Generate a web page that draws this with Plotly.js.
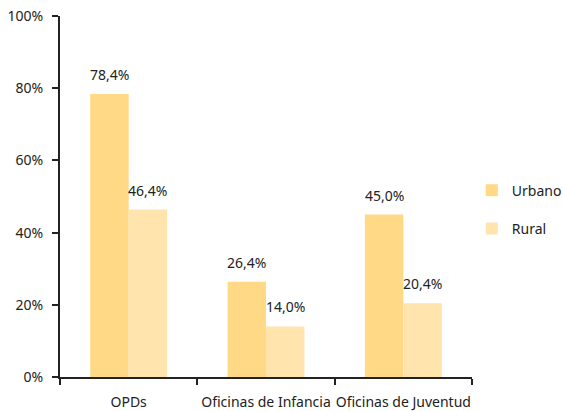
<!DOCTYPE html>
<html><head><meta charset="utf-8">
<script src="https://cdn.plot.ly/plotly-3.0.1.min.js"></script>
<style>html,body{margin:0;padding:0;background:#fff}#c{width:563px;height:411px}</style>
</head><body><div id="c"></div>
<script>
var categories = ["OPDs", "Oficinas de Infancia", "Oficinas de Juventud"];
var urbano = [78.4, 26.4, 45.0];
var rural = [46.4, 14.0, 20.4];
var seriesNames = ["Urbano", "Rural"];
var yTicks = [0, 20, 40, 60, 80, 100];
var yTickText = ["0%", "20%", "40%", "60%", "80%", "100%"];

var colors = ["#FFD985", "#FFE5AD"];
var fontFam = "Noto Sans, Open Sans, sans-serif";

var traces = [urbano, rural].map(function(vals, i){
  return {type:"bar", x:categories, y:vals, name:seriesNames[i], marker:{color:colors[i]},
    legendgroup:"g"+i, hoverinfo:"none"};
});

var annotations = [];
[urbano, rural].forEach(function(vals, i){
  vals.forEach(function(v, j){
    annotations.push({x:categories[j], y:v, xref:"x", yref:"y", text:v.toFixed(1).replace(".", ",")+"%",
      showarrow:false, yanchor:"bottom", xshift:(i===0?-1:1)*19.3, yshift:8,
      font:{family:fontFam, size:14, color:"#222"}});
  });
});

var layout = {
  width:563, height:411,
  margin:{l:60, r:91, t:16, b:34, autoexpand:false},
  paper_bgcolor:"#fff", plot_bgcolor:"#fff",
  font:{family:fontFam, size:14, color:"#222"},
  bargap:0.44, bargroupgap:0,
  showlegend:true,
  legend:{xref:"container", x:0.838, xanchor:"left", yref:"container", y:0.49, yanchor:"middle",
    traceorder:"grouped", tracegroupgap:17,
    font:{family:fontFam, size:14, color:"#222"}, itemwidth:30},
  xaxis:{showline:true, linecolor:"#222", linewidth:2, ticks:"outside", tickson:"boundaries", tickangle:0,
    automargin:false,
    ticklen:6, tickwidth:2, tickcolor:"#222", ticklabelstandoff:11, showgrid:false, zeroline:false},
  yaxis:{range:[0,100], tickmode:"array", tickvals:yTicks, ticktext:yTickText, showline:true, linecolor:"#222", linewidth:2,
    automargin:false,
    ticks:"outside", ticklen:6, tickwidth:2, tickcolor:"#222", showgrid:false, zeroline:false,
    ticklabelstandoff:6},
  annotations:annotations
};
Plotly.newPlot("c", traces, layout, {staticPlot:true, displayModeBar:false});
</script></body></html>
